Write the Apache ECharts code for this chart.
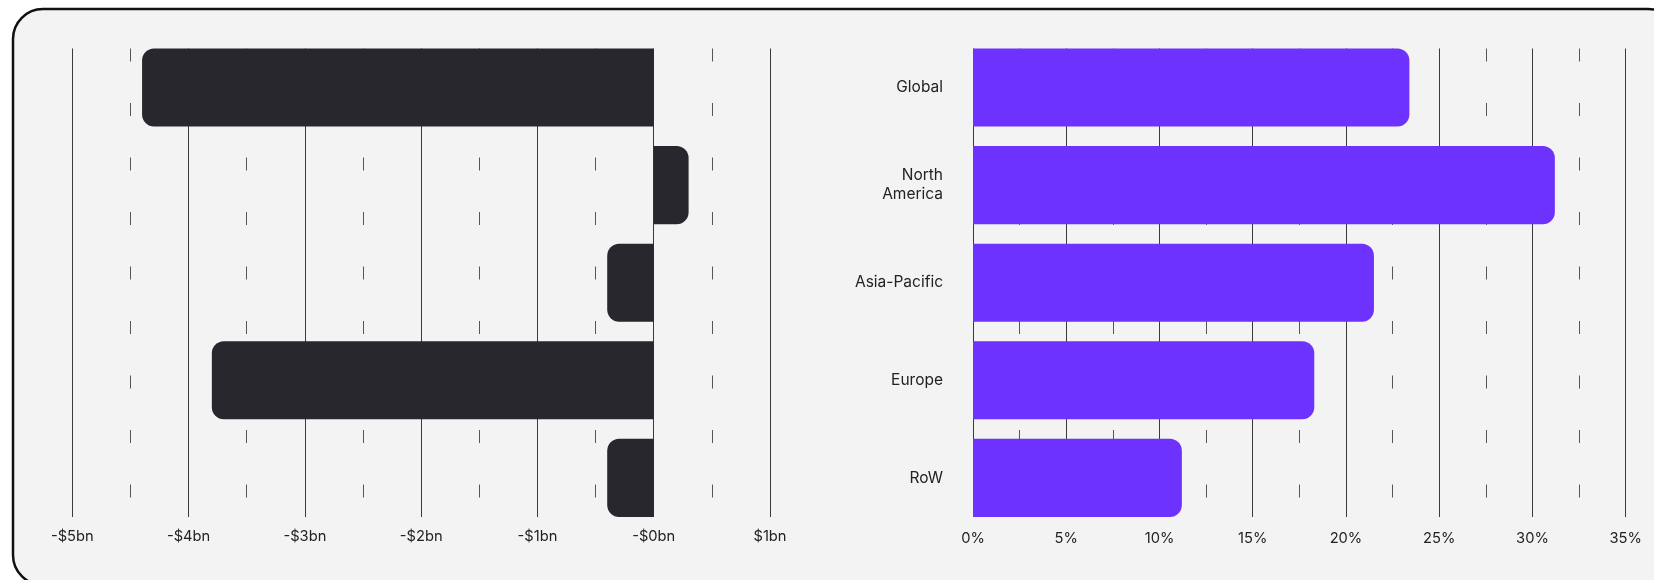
<!DOCTYPE html>
<html>
<head>
<meta charset="utf-8">
<script src="https://cdn.jsdelivr.net/npm/echarts@6/dist/echarts.min.js"></script>
<style>
  html, body { margin: 0; padding: 0; background: #ffffff; }
  #chart { width: 1654px; height: 580px; }
</style>
</head>
<body>
<div id="chart"></div>
<script>
// ---- data ----
const categories = ['Global', 'North\nAmerica', 'Asia-Pacific', 'Europe', 'RoW'];
const valueBn = [-4.4, 0.3, -0.4, -3.8, -0.4];          // left panel, $bn
const growthPct = [23.4, 31.2, 21.5, 18.3, 11.2];       // right panel, %
const bnTickLabels = ['-$5bn', '-$4bn', '-$3bn', '-$2bn', '-$1bn', '-$0bn', '$1bn'];
const pctTickLabels = ['0%', '5%', '10%', '15%', '20%', '25%', '30%', '35%'];

// ---- styling ----
const FONT = 'Inter, "Noto Sans", sans-serif';
const TEXT = '#222222';
const DARK = '#28272d';
const PURPLE = '#6e32ff';
const RADIUS = 12;

function roundedItems(values, color) {
  return values.map(v => ({
    value: v,
    itemStyle: {
      color: color,
      borderRadius: v < 0 ? [RADIUS, 0, 0, RADIUS] : [0, RADIUS, RADIUS, 0]
    }
  }));
}

const gridLeft = { left: 72.3, width: 697.7 };
const gridRight = { left: 973, width: 652.7 };
const lineTop = 48.5, lineHeight = 468.5;
const barTop = 38.7, barHeight = 488;

const majorLine = { show: true, lineStyle: { color: '#3a3a3a', width: 1 } };
const minorLine = { show: true, lineStyle: { color: '#555555', width: 1, type: [13, 41.5] } };

const chart = echarts.init(document.getElementById('chart'), null, { renderer: 'canvas' });
chart.setOption({
  backgroundColor: '#ffffff',
  animation: false,
  textStyle: { fontFamily: FONT },
  graphic: [{
    type: 'rect',
    z: -100,
    shape: { x: 13, y: 9, width: 1665, height: 576, r: 30 },
    style: { fill: '#f3f3f3', stroke: '#111111', lineWidth: 2.5 }
  }],
  grid: [
    { left: gridLeft.left, width: gridLeft.width, top: lineTop, height: lineHeight },
    { left: gridLeft.left, width: gridLeft.width, top: barTop, height: barHeight },
    { left: gridRight.left, width: gridRight.width, top: lineTop, height: lineHeight },
    { left: gridRight.left, width: gridRight.width, top: barTop, height: barHeight }
  ],
  xAxis: [
    {
      gridIndex: 0, type: 'value', min: -5, max: 1, interval: 1,
      axisLine: { show: false }, axisTick: { show: false },
      axisLabel: {
        margin: 12, fontSize: 14.7, color: TEXT, fontFamily: FONT,
        formatter: v => bnTickLabels[Math.round(v + 5)]
      },
      splitLine: majorLine,
      minorTick: { show: false, splitNumber: 2 },
      minorSplitLine: minorLine
    },
    { gridIndex: 1, type: 'value', min: -5, max: 1, show: false },
    {
      gridIndex: 2, type: 'value', min: 0, max: 35, interval: 5,
      axisLine: { show: false }, axisTick: { show: false },
      axisLabel: {
        margin: 14.5, fontSize: 14.7, color: TEXT, fontFamily: FONT,
        formatter: v => pctTickLabels[Math.round(v / 5)]
      },
      splitLine: majorLine,
      minorTick: { show: false, splitNumber: 2 },
      minorSplitLine: minorLine
    },
    { gridIndex: 3, type: 'value', min: 0, max: 35, show: false }
  ],
  yAxis: [
    { gridIndex: 0, type: 'value', min: 0, max: 1, show: false },
    { gridIndex: 1, type: 'category', data: categories, inverse: true, show: false },
    { gridIndex: 2, type: 'value', min: 0, max: 1, show: false },
    {
      gridIndex: 3, type: 'category', data: categories, inverse: true,
      axisLine: { show: false }, axisTick: { show: false }, splitLine: { show: false },
      axisLabel: { margin: 30, fontSize: 15.5, color: TEXT, fontFamily: FONT, lineHeight: 19, align: 'right' }
    }
  ],
  series: [
    {
      type: 'bar', xAxisIndex: 1, yAxisIndex: 1, barCategoryGap: '20%',
      data: roundedItems(valueBn, DARK), z: 5
    },
    {
      type: 'bar', xAxisIndex: 3, yAxisIndex: 3, barCategoryGap: '20%',
      data: roundedItems(growthPct, PURPLE), z: 5
    }
  ]
});
</script>
</body>
</html>
